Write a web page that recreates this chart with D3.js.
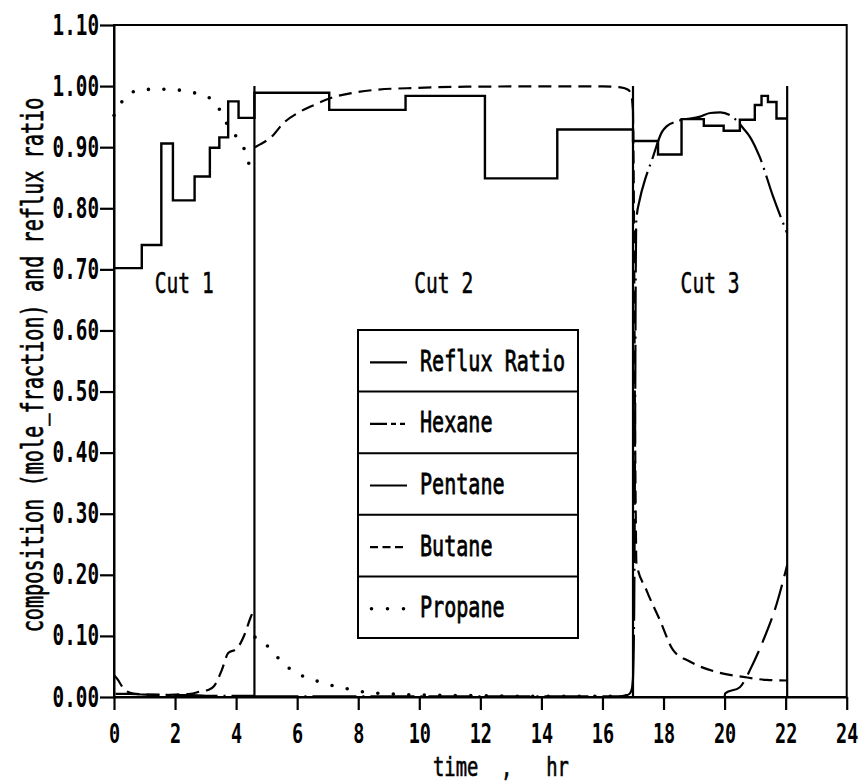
<!DOCTYPE html>
<html>
<head>
<meta charset="utf-8">
<script src="https://cdn.jsdelivr.net/npm/d3@7/dist/d3.min.js"></script>
<style>
  html, body { margin: 0; padding: 0; background: #fff; }
  svg { display: block; }
</style>
</head>
<body>
<svg id="chart" width="862" height="782"></svg>
<script>
// ---- axis ticks ----
const xTicks = [0, 2, 4, 6, 8, 10, 12, 14, 16, 18, 20, 22, 24];
const yTicks = [0, 0.1, 0.2, 0.3, 0.4, 0.5, 0.6, 0.7, 0.8, 0.9, 1.0, 1.1];

// ---- cut boundaries (hr) and labels ----
const cutBounds = [0, 4.6, 17.0, 22.05];
const cutLabels = ["Cut 1", "Cut 2", "Cut 3"];

// ---- reflux ratio (piecewise constant, value holds from each start time) ----
const refluxTimes  = [0, 0.91, 1.55, 1.93, 2.64, 3.14, 3.45, 3.74, 4.08, 4.6, 7.05, 9.55, 12.15, 14.52, 17.0, 17.82, 18.59, 19.32, 19.97, 20.5, 20.99, 21.21, 21.42, 21.7, 22.05];
const refluxValues = [0.702, 0.740, 0.906, 0.813, 0.852, 0.899, 0.916, 0.975, 0.948, 0.989, 0.961, 0.984, 0.849, 0.929, 0.910, 0.888, 0.946, 0.935, 0.927, 0.945, 0.969, 0.984, 0.974, 0.947, 0.947];

// ---- distillate composition, [time hr, mole fraction] ----
const propaneCut1 = [[0, 0.952], [0.2, 0.970], [0.5, 0.987], [0.9, 0.994], [1.5, 0.995], [2.2, 0.993], [2.7, 0.988], [3.2, 0.978], [3.5, 0.958], [3.7, 0.938], [3.95, 0.921], [4.25, 0.899], [4.4, 0.876], [4.55, 0.850]];
const propaneCut2 = [[4.62, 0.098], [4.8, 0.090], [5.09, 0.081], [5.41, 0.062], [5.79, 0.045], [6.24, 0.033], [6.72, 0.025], [7.21, 0.018], [7.70, 0.013], [8.21, 0.008], [8.71, 0.006], [9.5, 0.004], [10.5, 0.003], [12.0, 0.002], [14.0, 0.001], [17.0, 0.001]];

const butaneCut1 = [[0.02, 0.035], [0.1, 0.030], [0.33, 0.013], [0.6, 0.006], [1.0, 0.004], [1.5, 0.003], [2.0, 0.004], [2.5, 0.005], [2.82, 0.009], [3.1, 0.012], [3.28, 0.018], [3.53, 0.044], [3.74, 0.072], [4.02, 0.079], [4.29, 0.104], [4.48, 0.131], [4.56, 0.140]];
const butaneCut2 = [[4.62, 0.900], [4.8, 0.905], [5.16, 0.917], [5.54, 0.939], [6.09, 0.958], [6.69, 0.972], [7.07, 0.980], [7.73, 0.988], [8.6, 0.994], [9.91, 0.997], [11.55, 0.999], [14.0, 0.9995], [16.0, 0.9995], [16.6, 0.998], [16.84, 0.994], [16.95, 0.985], [17.0, 0.960]];
const butaneCut3 = [[17.0, 0.960], [17.03, 0.80], [17.06, 0.50], [17.09, 0.30], [17.11, 0.220], [17.44, 0.175], [17.88, 0.126], [18.31, 0.077], [18.86, 0.058], [19.73, 0.041], [20.61, 0.033], [21.37, 0.028], [22.05, 0.027]];

const pentaneCut1 = [[0.05, 0.005], [0.5, 0.005], [1.0, 0.004], [1.5, 0.004], [2.0, 0.003], [2.5, 0.003], [3.0, 0.002], [4.0, 0.002], [4.6, 0.002]];
const pentaneCut2 = [[4.6, 0.001], [10.0, 0.001], [16.5, 0.001], [16.8, 0.003], [16.9, 0.006], [16.97, 0.015], [17.0, 0.030]];
const pentaneCut3 = [[17.0, 0.030], [17.04, 0.15], [17.07, 0.45], [17.09, 0.70], [17.11, 0.781], [17.22, 0.814], [17.39, 0.846], [17.62, 0.879], [17.95, 0.925], [18.1, 0.934], [18.49, 0.943], [19.2, 0.950], [19.53, 0.956], [19.86, 0.957], [20.39, 0.944], [20.61, 0.931], [20.83, 0.917], [21.15, 0.884], [21.59, 0.819], [22.05, 0.759]];

const hexaneCut3 = [[20.0, 0.0], [20.02, 0.006], [20.5, 0.016], [20.72, 0.033], [20.83, 0.044], [21.27, 0.093], [21.71, 0.153], [22.05, 0.216]];

// ---- legend ----
const legendNames = ["Reflux Ratio", "Hexane", "Pentane", "Butane", "Propane"];

// ---- layout ----
const svg = d3.select("#chart");
const mono = "'DejaVu Sans Mono', 'Liberation Mono', monospace";
const tall = 1.45;   // vertical stretch giving the tall, narrow plotter lettering

const x = d3.scaleLinear().domain([0, 24]).range([114, 846.7]);
const y = d3.scaleLinear().domain([0, 1.1]).range([697, 25]);

// line styles per component
const styles = {
  reflux:  { dash: null,          width: 2.4, cap: "butt" },
  hexane:  { dash: "26,9",        width: 2.2, cap: "butt" },
  pentane: { dash: "44,6,2,6",    width: 2.2, cap: "butt" },
  butane:  { dash: "13,7",        width: 2.2, cap: "butt" },
  propane: { dash: "0,15.5",      width: 3.6, cap: "round" }
};

// frame
svg.append("rect")
  .attr("x", x(0)).attr("y", y(1.1))
  .attr("width", x(24) - x(0)).attr("height", y(0) - y(1.1))
  .attr("fill", "none").attr("stroke", "#000").attr("stroke-width", 2);

// x axis
const xAxis = svg.append("g")
  .attr("transform", `translate(0,${y(0)})`)
  .call(d3.axisBottom(x).tickValues(xTicks).tickSize(13).tickSizeOuter(0).tickFormat(d3.format("d")));
xAxis.select(".domain").attr("stroke-width", 2);
xAxis.selectAll(".tick line").attr("stroke-width", 2.2);
xAxis.selectAll(".tick text")
  .attr("x", null).attr("y", null).attr("dy", null)
  .attr("transform", `translate(0,46) scale(1,${tall})`)
  .attr("font-family", mono).attr("font-size", 18.5).attr("font-weight", "bold")
  .attr("fill", "#000");

// y axis
const yAxis = svg.append("g")
  .attr("transform", `translate(${x(0)},0)`)
  .call(d3.axisLeft(y).tickValues(yTicks).tickSize(14).tickSizeOuter(0).tickFormat(d3.format(".2f")));
yAxis.select(".domain").attr("stroke-width", 2);
yAxis.selectAll(".tick line").attr("stroke-width", 2.2);
yAxis.selectAll(".tick text")
  .attr("x", null).attr("y", null).attr("dy", null)
  .attr("transform", `translate(-15,9) scale(1,${tall})`)
  .attr("font-family", mono).attr("font-size", 19.3).attr("font-weight", "bold")
  .attr("fill", "#000");

// axis titles
svg.append("text")
  .attr("transform", `translate(433,776) scale(1,${tall})`)
  .attr("xml:space", "preserve").style("white-space", "pre")
  .attr("font-family", mono).attr("font-size", 18.8)
  .attr("stroke", "#000").attr("stroke-width", 0.45)
  .text("time  ,   hr");

svg.append("text")
  .attr("transform", `translate(43,${(y(0) + y(1.1)) / 2 + 4}) rotate(-90) scale(1,${tall})`)
  .attr("text-anchor", "middle")
  .attr("font-family", mono).attr("font-size", 20.2)
  .attr("stroke", "#000").attr("stroke-width", 0.45)
  .text("composition (mole_fraction) and reflux ratio");

// composition curves
const line = d3.line().x(d => x(d[0])).y(d => y(d[1])).curve(d3.curveMonotoneX);
const plot = svg.append("g").attr("fill", "none").attr("stroke", "#000");

function drawSeries(data, s) {
  plot.append("path")
    .attr("d", line(data))
    .attr("stroke-width", s.width)
    .attr("stroke-dasharray", s.dash)
    .attr("stroke-linecap", s.cap)
    .attr("stroke-linejoin", "round");
}

[pentaneCut1, pentaneCut2, pentaneCut3].forEach(d => drawSeries(d, styles.pentane));
[butaneCut1, butaneCut2, butaneCut3].forEach(d => drawSeries(d, styles.butane));
[propaneCut1, propaneCut2].forEach(d => drawSeries(d, styles.propane));
drawSeries(hexaneCut3, styles.hexane);

// reflux ratio steps
const refluxData = refluxTimes.map((t, i) => [t, refluxValues[i]]);
plot.append("path")
  .attr("d", d3.line().x(d => x(d[0])).y(d => y(d[1])).curve(d3.curveStepAfter)(refluxData))
  .attr("stroke-width", styles.reflux.width)
  .attr("stroke-linejoin", "miter");

// cut boundary lines
svg.append("g").selectAll("line")
  .data(cutBounds.slice(1))
  .join("line")
  .attr("x1", d => x(d)).attr("x2", d => x(d))
  .attr("y1", y(0)).attr("y2", y(1.0))
  .attr("stroke", "#000").attr("stroke-width", 2.2);

// cut labels
svg.append("g").selectAll("text")
  .data(cutLabels)
  .join("text")
  .attr("transform", (d, i) => `translate(${x((cutBounds[i] + cutBounds[i + 1]) / 2)},293) scale(1,${tall})`)
  .attr("text-anchor", "middle")
  .attr("font-family", mono).attr("font-size", 19.6)
  .attr("stroke", "#000").attr("stroke-width", 0.35)
  .attr("xml:space", "preserve").style("white-space", "pre")
  .text(d => d);

// legend
const legX = 358, legY = 330, legW = 220, rowH = 61.6;
const legendStyles = [
  { dash: null, width: 2.2, cap: "butt" },
  { dash: "17,4,5,4,5", width: 2.2, cap: "butt" },
  { dash: null, width: 2.2, cap: "butt" },
  { dash: "8,4.5", width: 2.2, cap: "butt" },
  { dash: "0,16", width: 3.6, cap: "round" }
];
const legend = svg.append("g");
legend.append("rect")
  .attr("x", legX).attr("y", legY)
  .attr("width", legW).attr("height", rowH * legendNames.length)
  .attr("fill", "#fff").attr("stroke", "#000").attr("stroke-width", 2);
const rows = legend.selectAll("g.row")
  .data(legendNames)
  .join("g")
  .attr("class", "row")
  .attr("transform", (d, i) => `translate(${legX},${legY + i * rowH})`);
rows.filter((d, i) => i > 0).append("line")
  .attr("x1", 0).attr("x2", legW).attr("y1", 0).attr("y2", 0)
  .attr("stroke", "#000").attr("stroke-width", 2);
rows.append("line")
  .attr("x1", (d, i) => i === 4 ? 13.5 : 12).attr("x2", 49)
  .attr("y1", rowH / 2 + 1.5).attr("y2", rowH / 2 + 1.5)
  .attr("stroke", "#000")
  .attr("stroke-width", (d, i) => legendStyles[i].width)
  .attr("stroke-dasharray", (d, i) => legendStyles[i].dash)
  .attr("stroke-linecap", (d, i) => legendStyles[i].cap);
rows.append("text")
  .attr("transform", `translate(62,${rowH / 2 + 10}) scale(1,${tall})`)
  .attr("font-family", mono).attr("font-size", 20.1)
  .attr("stroke", "#000").attr("stroke-width", 0.55)
  .attr("xml:space", "preserve").style("white-space", "pre")
  .text(d => d);
</script>
</body>
</html>
